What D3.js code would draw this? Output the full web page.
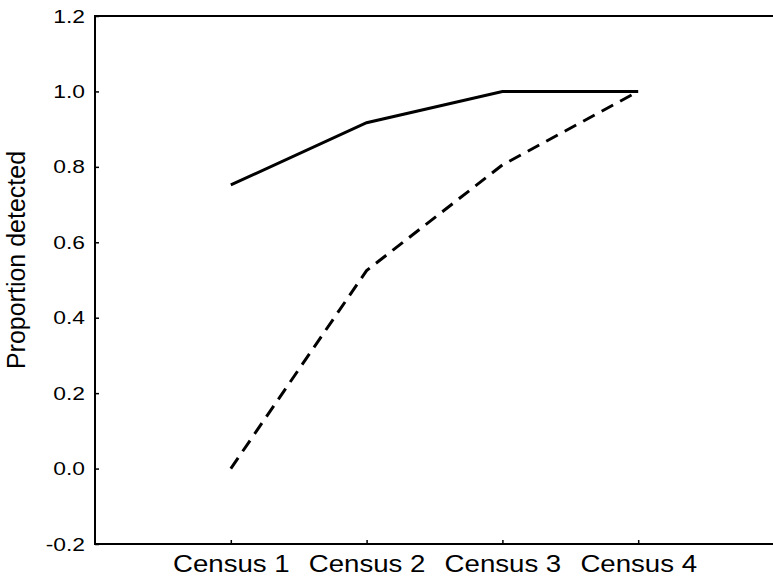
<!DOCTYPE html>
<html>
<head>
<meta charset="utf-8">
<script src="https://cdn.jsdelivr.net/npm/d3@7"></script>
<style>
  body { margin: 0; background: #fff; }
  svg { display: block; font-family: "Liberation Sans", Arial, sans-serif; }
</style>
</head>
<body>
<div id="chart"></div>
<script>
const categories = ["Census 1", "Census 2", "Census 3", "Census 4"];
const solidValues = [0.752, 0.917, 1.0, 1.0];
const dashedValues = [0.0, 0.525, 0.805, 1.0];
const yTicks = [-0.2, 0.0, 0.2, 0.4, 0.6, 0.8, 1.0, 1.2];

const WIDTH = 773;
const HEIGHT = 577;
const MARGIN = { top: 16, right: -1, bottom: 33, left: 95 };

const svg = d3.select("#chart")
  .append("svg")
  .attr("width", WIDTH)
  .attr("height", HEIGHT);

const x = d3.scalePoint()
  .domain(categories)
  .range([MARGIN.left, WIDTH - MARGIN.right])
  .padding(1);

const y = d3.scaleLinear()
  .domain([-0.2, 1.2])
  .range([HEIGHT - MARGIN.bottom, MARGIN.top]);

// the original lettering is a bit wider than Liberation Sans
function widen(sel, factor) {
  sel.each(function () {
    const w = this.getComputedTextLength();
    d3.select(this).attr("textLength", w * factor).attr("lengthAdjust", "spacingAndGlyphs");
  });
}

// frame (right edge falls just off the canvas)
svg.append("rect")
  .attr("x", MARGIN.left)
  .attr("y", MARGIN.top)
  .attr("width", WIDTH + 3 - MARGIN.left)
  .attr("height", HEIGHT - MARGIN.bottom - MARGIN.top)
  .attr("fill", "none")
  .attr("stroke", "#000")
  .attr("stroke-width", 2);

// y axis, ticks pointing inward
const yAxis = svg.append("g")
  .attr("transform", `translate(${MARGIN.left},0)`)
  .call(
    d3.axisLeft(y)
      .tickValues(yTicks)
      .tickSizeInner(-4)
      .tickSizeOuter(0)
      .tickPadding(10)
      .tickFormat((d) => d3.format(".1f")(d).replace("\u2212", "-"))
  );
yAxis.select(".domain").remove();
yAxis.selectAll("line").attr("stroke", "#000").attr("stroke-width", 1.5);
yAxis.selectAll("text")
  .attr("font-size", 19)
  .attr("fill", "#000")
  .attr("font-family", "Liberation Sans, Arial, sans-serif")
  .call(widen, 1.2);

// x axis
const xAxis = svg.append("g")
  .attr("transform", `translate(0,${HEIGHT - MARGIN.bottom})`)
  .call(d3.axisBottom(x).tickSizeInner(-4).tickSizeOuter(0).tickPadding(11));
xAxis.select(".domain").remove();
xAxis.selectAll("line").attr("stroke", "#000").attr("stroke-width", 1.5);
xAxis.selectAll("text")
  .attr("font-size", 24)
  .attr("fill", "#000")
  .attr("font-family", "Liberation Sans, Arial, sans-serif")
  .call(widen, 1.15);

// y label
svg.append("text")
  .attr("transform", "rotate(-90)")
  .attr("x", -260)
  .attr("y", 25)
  .attr("text-anchor", "middle")
  .attr("font-size", 25)
  .text("Proportion detected");

const line = d3.line()
  .x((d, i) => x(categories[i]))
  .y((d) => y(d));

svg.append("path")
  .datum(solidValues)
  .attr("d", line)
  .attr("fill", "none")
  .attr("stroke", "#000")
  .attr("stroke-width", 3);

svg.append("path")
  .datum(dashedValues)
  .attr("d", line)
  .attr("fill", "none")
  .attr("stroke", "#000")
  .attr("stroke-width", 3)
  .attr("stroke-dasharray", "13,8");
</script>
</body>
</html>
